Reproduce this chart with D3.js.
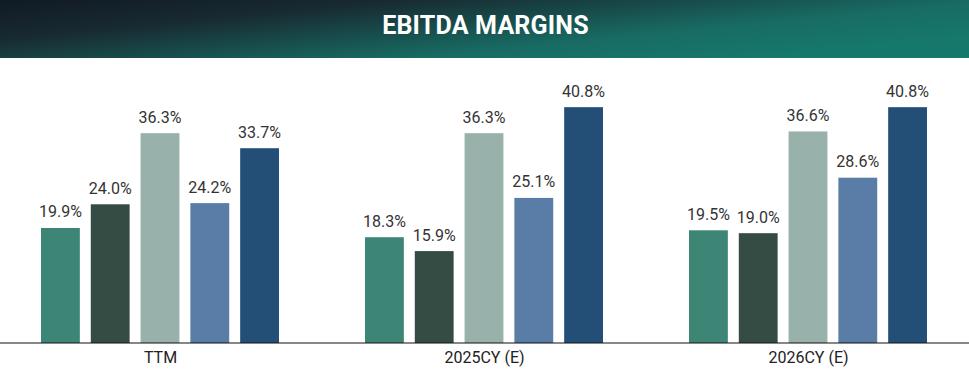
<!DOCTYPE html>
<html>
<head>
<meta charset="utf-8">
<script src="https://cdn.jsdelivr.net/npm/d3@7"></script>
<style>
  body { margin: 0; background: #fff; }
  svg { display: block; font-family: Roboto, "Noto Sans", sans-serif; }
</style>
</head>
<body>
<div id="chart"></div>
<script>
const periods = ["TTM", "2025CY (E)", "2026CY (E)"];
const series = ["s1", "s2", "s3", "s4", "s5"];
const values = [
  [19.9, 24.0, 36.3, 24.2, 33.7],
  [18.3, 15.9, 36.3, 25.1, 40.8],
  [19.5, 19.0, 36.6, 28.6, 40.8]
];
const colors = ["#3d8676", "#354c45", "#98b1aa", "#5a7da8", "#234f76"];

const width = 969, height = 388;
const headerH = 58;
const baseY = 343;

const svg = d3.select("#chart").append("svg")
    .attr("width", width)
    .attr("height", height);

// header with gradient
const grad = svg.append("defs").append("linearGradient")
    .attr("id", "hdr")
    .attr("x1", "0%").attr("y1", "0%")
    .attr("x2", "100%").attr("y2", "60%");
grad.append("stop").attr("offset", "0%").attr("stop-color", "#111a24");
grad.append("stop").attr("offset", "30%").attr("stop-color", "#182a31");
grad.append("stop").attr("offset", "75%").attr("stop-color", "#186b63");
grad.append("stop").attr("offset", "100%").attr("stop-color", "#16776b");

svg.append("rect")
    .attr("width", width)
    .attr("height", headerH)
    .attr("fill", "url(#hdr)");

svg.append("text")
    .attr("x", width / 2 + 1)
    .attr("y", 34)
    .attr("text-anchor", "middle")
    .attr("fill", "#fff")
    .attr("font-size", 25)
    .attr("font-weight", "bold")
    .attr("letter-spacing", 0.2)
    .text("EBITDA MARGINS");

// scales
const x0 = d3.scaleBand().domain(periods).range([-1.5, 970.5]);
const x1 = d3.scaleBand().domain(series)
    .range([41, 279]).paddingInner(0.22);
const y = d3.scaleLinear().domain([0, 50]).range([baseY, 54]);

const groups = svg.append("g")
    .selectAll("g")
    .data(values)
    .join("g")
    .attr("transform", (d, i) => "translate(" + (x0(periods[i]) + x0.bandwidth() / 2 - 160.5) + ",0)");

groups.selectAll("rect")
    .data(d => d)
    .join("rect")
    .attr("x", (d, i) => x1(series[i]))
    .attr("y", d => y(d))
    .attr("width", x1.bandwidth())
    .attr("height", d => baseY - y(d))
    .attr("fill", (d, i) => colors[i]);

groups.selectAll("text")
    .data(d => d)
    .join("text")
    .attr("x", (d, i) => x1(series[i]) + x1.bandwidth() / 2)
    .attr("y", d => y(d) - 10.5)
    .attr("text-anchor", "middle")
    .attr("fill", "#333")
    .attr("font-size", 16)
    .text(d => d.toFixed(1) + "%");

// axis
const xAxis = svg.append("g")
    .attr("transform", "translate(0," + baseY + ")")
    .call(d3.axisBottom(x0).tickSize(0).tickPadding(9));
xAxis.select(".domain").attr("stroke", "#111").attr("stroke-width", 1.2)
    .attr("d", "M0,0H" + width);
xAxis.selectAll("text")
    .attr("font-size", 16)
    .attr("fill", "#222")
    .attr("font-family", "Roboto, sans-serif");
</script>
</body>
</html>
